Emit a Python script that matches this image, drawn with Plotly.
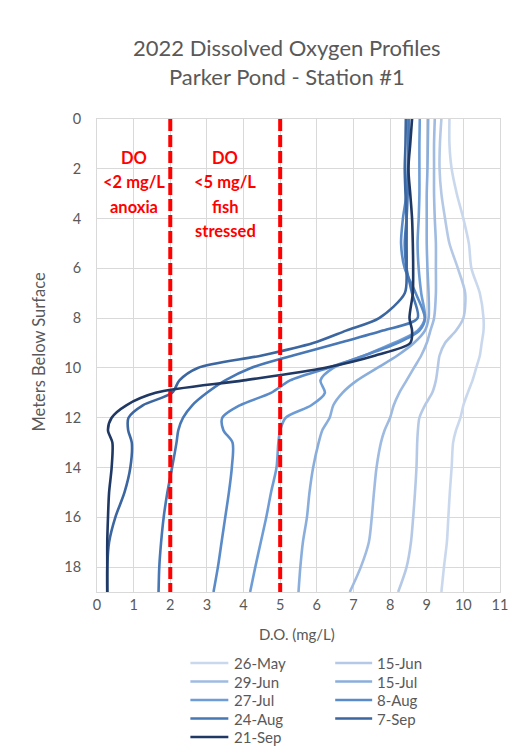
import plotly.graph_objects as go

depth = [0, 1, 2, 3, 4, 5, 6, 7, 8, 8.5, 9, 9.5, 10, 10.5, 11, 11.5, 12, 12.5, 13, 14, 15, 16, 17, 18, 19]

dates = ["26-May", "15-Jun", "29-Jun", "15-Jul", "27-Jul", "8-Aug", "24-Aug", "7-Sep", "21-Sep"]

do_26may = [9.62, 9.62, 9.68, 9.82, 10.0, 10.15, 10.22, 10.45, 10.55, 10.55, 10.5, 10.45, 10.35, 10.25, 10.12, 10.0, 9.92, 9.8, 9.72, 9.68, 9.63, 9.59, 9.55, 9.47, 9.4]
do_15jun = [9.4, 9.36, 9.35, 9.4, 9.5, 9.62, 9.85, 10.05, 10.0, 9.8, 9.5, 9.35, 9.3, 9.25, 9.15, 8.95, 8.8, 8.76, 8.74, 8.72, 8.68, 8.63, 8.57, 8.45, 8.22]
do_29jun = [9.22, 9.2, 9.2, 9.2, 9.22, 9.25, 9.25, 9.25, 9.2, 9.1, 9.0, 8.85, 8.65, 8.45, 8.25, 8.1, 8.0, 7.85, 7.75, 7.63, 7.56, 7.5, 7.42, 7.2, 6.9]
do_15jul = [9.04, 9.03, 9.02, 9.0, 9.0, 9.0, 9.02, 9.05, 9.05, 8.95, 8.65, 8.2, 7.65, 7.1, 6.7, 6.45, 6.35, 6.15, 6.05, 5.9, 5.8, 5.73, 5.62, 5.55, 5.5]
do_27jul = [8.81, 8.8, 8.8, 8.8, 8.78, 8.75, 8.78, 8.85, 8.95, 8.75, 8.1, 7.3, 6.45, 6.1, 6.22, 5.85, 5.15, 5.0, 4.95, 4.9, 4.75, 4.62, 4.47, 4.32, 4.18]
do_8aug = [8.52, 8.5, 8.48, 8.45, 8.35, 8.3, 8.4, 8.7, 8.95, 8.8, 8.2, 7.3, 6.3, 5.27, 4.75, 3.9, 3.42, 3.45, 3.7, 3.68, 3.6, 3.5, 3.4, 3.3, 3.18]
do_24aug = [8.5, 8.5, 8.5, 8.48, 8.45, 8.4, 8.45, 8.6, 8.75, 7.8, 6.6, 5.35, 4.2, 3.5, 3.0, 2.6, 2.35, 2.22, 2.17, 2.05, 1.92, 1.82, 1.75, 1.7, 1.68]
do_7sep = [8.43, 8.42, 8.4, 8.42, 8.45, 8.45, 8.45, 8.4, 7.7, 6.8, 5.9, 4.5, 2.75, 2.25, 2.05, 1.25, 0.86, 0.85, 0.95, 0.91, 0.75, 0.5, 0.33, 0.28, 0.28]
do_21sep = [8.6, 8.55, 8.5, 8.55, 8.6, 8.62, 8.63, 8.62, 8.53, 8.6, 8.55, 7.6, 6.2, 4.0, 1.6, 0.8, 0.4, 0.3, 0.42, 0.4, 0.33, 0.3, 0.28, 0.28, 0.28]

series = [do_26may, do_15jun, do_29jun, do_15jul, do_27jul, do_8aug, do_24aug, do_7sep, do_21sep]
colors = ["#cad8ed", "#b5c9e6", "#9fbbe1", "#8aaedc", "#6e9dd6", "#5a8bc8", "#4777b5", "#3b66a0", "#1f3864"]

thresholds = [2, 5]
x_ticks = list(range(0, 12))
y_ticks = list(range(0, 19, 2))

FONT = "Lato, 'Liberation Sans', sans-serif"
GRAY = "#595959"
GRID = "#d9d9d9"

# layout geometry (page pixels; the page has an 8px body margin)
BODY = 8
PL, PR, PT, PB = 96.5, 500.0, 119.0, 592.0
W, H = 532 - BODY, 754 - BODY
PW, PH = PR - PL, PB - PT


def px(xp):
    return (xp - PL) / PW


def py(yp):
    return 1 - (yp - PT) / PH


fig = go.Figure()
for name, vals, col in zip(dates, series, colors):
    fig.add_trace(go.Scatter(
        x=vals, y=depth, mode="lines", name=name, showlegend=False,
        line=dict(color=col, width=2.6, shape="spline", smoothing=0.8),
    ))

for t in thresholds:
    fig.add_trace(go.Scatter(
        x=[t, t], y=[0, 19], mode="lines", showlegend=False,
        line=dict(color="#ff0000", width=4, dash="12px,4px"),
    ))

anns = []
shapes = []
for txt, yy in [("DO", 1.55), ("<2 mg/L", 2.55), ("anoxia", 3.55)]:
    anns.append(dict(x=1.0, y=yy, xref="x", yref="y", text=f"<b>{txt}</b>", showarrow=False,
                     yanchor="middle", font=dict(family=FONT, size=16.5, color="#ff0000")))
for txt, yy in [("DO", 1.55), ("<5 mg/L", 2.55), ("fish", 3.55), ("stressed", 4.5)]:
    anns.append(dict(x=3.5, y=yy, xref="x", yref="y", text=f"<b>{txt}</b>", showarrow=False,
                     yanchor="middle", font=dict(family=FONT, size=16.5, color="#ff0000")))
anns.append(dict(x=px(287), y=py(47), xref="paper", yref="paper", text="2022 Dissolved Oxygen Profiles",
                 showarrow=False, xanchor="center", yanchor="middle",
                 font=dict(family=FONT, size=22, color=GRAY)))
anns.append(dict(x=px(287), y=py(77), xref="paper", yref="paper", text="Parker Pond - Station #1",
                 showarrow=False, xanchor="center", yanchor="middle",
                 font=dict(family=FONT, size=22, color=GRAY)))
anns.append(dict(x=px(38), y=py(352), xref="paper", yref="paper", text="Meters Below Surface",
                 textangle=-90, showarrow=False, xanchor="center", yanchor="middle",
                 font=dict(family=FONT, size=16.5, color=GRAY)))
anns.append(dict(x=px(297), y=py(634), xref="paper", yref="paper", text="D.O. (mg/L)",
                 showarrow=False, xanchor="center", yanchor="middle",
                 font=dict(family=FONT, size=15, color=GRAY)))

# manual two-column legend
col_x = [(190, 228, 232), (335, 372, 375)]
row_y = [663, 681.5, 700, 718.5, 737]
for i, (name, col) in enumerate(zip(dates, colors)):
    c = i % 2
    r = i // 2
    x0, x1, xt = col_x[c]
    yy = py(row_y[r])
    shapes.append(dict(type="line", xref="paper", yref="paper", x0=px(x0), x1=px(x1), y0=yy, y1=yy,
                       line=dict(color=col, width=2.6)))
    anns.append(dict(x=px(xt), y=yy, xref="paper", yref="paper", text=name, showarrow=False,
                     xanchor="left", yanchor="middle", font=dict(family=FONT, size=15, color=GRAY)))

fig.update_layout(
    width=W, height=H,
    margin=dict(l=PL - BODY, r=W - (PR - BODY), t=PT - BODY, b=H - (PB - BODY), autoexpand=False),
    paper_bgcolor="white", plot_bgcolor="white",
    font=dict(family=FONT, color=GRAY, size=14),
    annotations=anns,
    shapes=shapes,
    showlegend=False,
)
fig.update_xaxes(range=[0, 11], tickvals=x_ticks, showgrid=True, gridcolor=GRID, gridwidth=1,
                 zeroline=False, showline=True, linecolor=GRID, mirror=True,
                 tickfont=dict(family=FONT, size=14.5, color=GRAY), ticks="")
fig.update_yaxes(range=[19, 0], tickvals=y_ticks, showgrid=True, gridcolor=GRID, gridwidth=1,
                 zeroline=False, showline=True, linecolor=GRID, mirror=True,
                 tickfont=dict(family=FONT, size=14.5, color=GRAY), ticks="", ticklabelstandoff=12)

fig.write_html("out.html")
